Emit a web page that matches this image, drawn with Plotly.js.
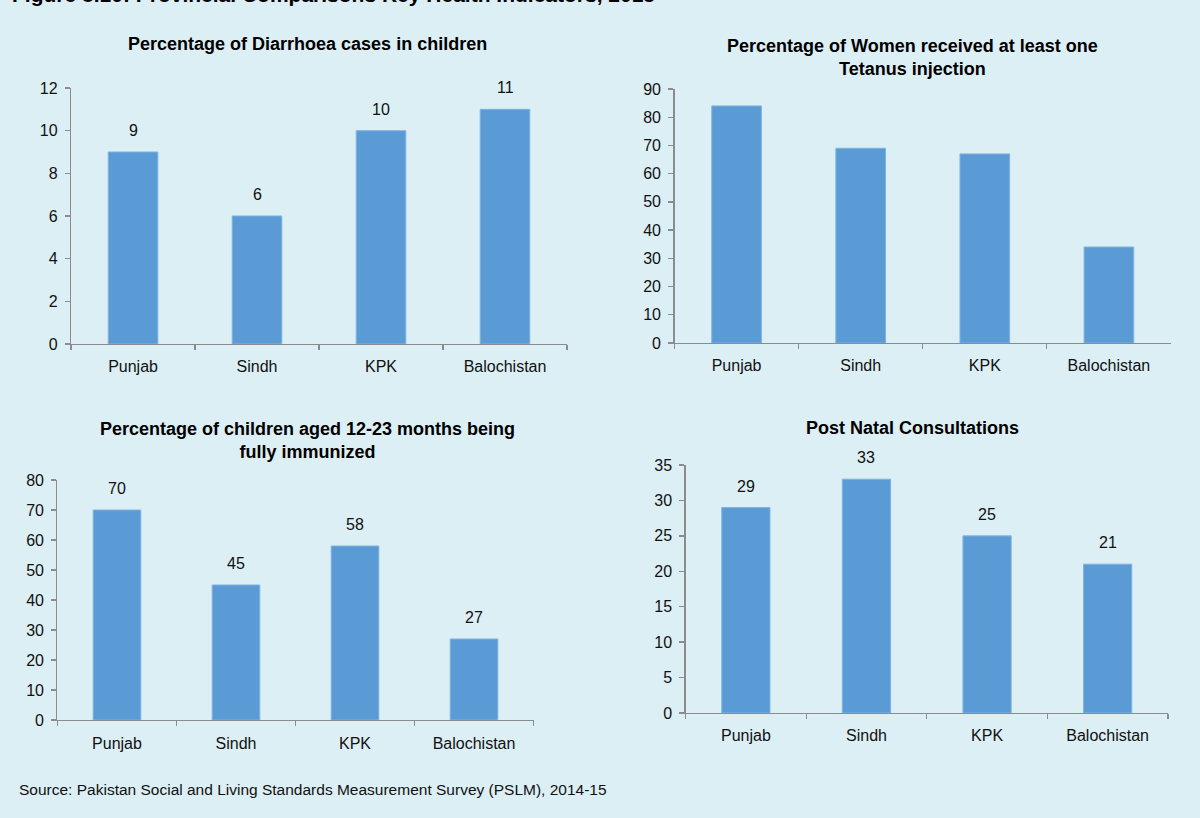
<!DOCTYPE html>
<html>
<head>
<meta charset="utf-8">
<script src="https://cdn.plot.ly/plotly-3.0.1.min.js"></script>
<style>
html,body{margin:0;padding:0;background:#DCEFF5;overflow:hidden;}
#chart{width:1200px;height:818px;}
</style>
</head>
<body>
<div id="chart"></div>
<script>
const provinces = ["Punjab", "Sindh", "KPK", "Balochistan"];
const diarrhoea = [9, 6, 10, 11];
const tetanus = [84, 69, 67, 34];
const immunized = [70, 45, 58, 27];
const postNatal = [29, 33, 25, 21];

const titles = [
  "Percentage of Diarrhoea cases in children",
  "Percentage of Women received at least one<br>Tetanus injection",
  "Percentage of children aged 12-23 months being<br>fully immunized",
  "Post Natal Consultations"
];
const figureTitle = "Figure 8.10: Provincial Comparisons Key Health Indicators, 2015";
const sourceText = "Source: Pakistan Social and Living Standards Measurement Survey (PSLM), 2014-15";

const FONT = "'Liberation Sans Narrow', 'Arial Narrow', 'Liberation Sans', Arial, sans-serif";
const BAR = "#5B9BD5";
const AXIS = "#8C8C8C";

const series = [diarrhoea, tetanus, immunized, postNatal];
const showLabels = [true, false, true, true];
const ranges = [[0, 12], [0, 90], [0, 80], [0, 35]];
const dticks = [2, 10, 10, 5];
const xDomains = [[0.0592, 0.4725], [0.5621, 0.9758], [0.0479, 0.4446], [0.5713, 0.9733]];
const yDomains = [[0.5795, 0.8924], [0.5807, 0.8912], [0.1198, 0.4132], [0.1284, 0.4315]];
const titlePos = [[307, 44], [912, 57], [307, 440], [912, 428]];

const data = [];
const layout = {
  width: 1200, height: 818,
  margin: {l: 0, r: 0, t: 0, b: 0},
  paper_bgcolor: "#DCEFF5",
  plot_bgcolor: "rgba(0,0,0,0)",
  showlegend: false,
  font: {family: FONT, size: 16, color: "#111"},
  annotations: [],
  bargap: 0.6
};

series.forEach((vals, i) => {
  const n = i + 1;
  const xa = n === 1 ? "x" : "x" + n;
  const ya = n === 1 ? "y" : "y" + n;
  data.push({
    type: "bar", x: provinces, y: vals, xaxis: xa, yaxis: ya,
    marker: {color: BAR, line: {color: "#7FB2E0", width: 1}},
    hoverinfo: "x+y"
  });
  const xk = n === 1 ? "xaxis" : "xaxis" + n;
  const yk = n === 1 ? "yaxis" : "yaxis" + n;
  layout[xk] = {
    domain: xDomains[i], anchor: ya,
    showline: true, linecolor: AXIS, linewidth: 1.3,
    ticks: "outside", ticklen: 5, tickcolor: AXIS, tickwidth: 1.3,
    tickson: "boundaries",
    showgrid: false, zeroline: false,
    tickfont: {family: FONT, size: 16, color: "#111"},
    ticklabelstandoff: 8,
    fixedrange: true
  };
  layout[yk] = {
    domain: yDomains[i], anchor: xa,
    range: ranges[i], dtick: dticks[i], tick0: 0,
    showline: true, linecolor: AXIS, linewidth: 1.3,
    ticks: "outside", ticklen: 5, tickcolor: AXIS, tickwidth: 1.3,
    showgrid: false, zeroline: false,
    tickfont: {family: FONT, size: 16, color: "#111"},
    ticklabelstandoff: 4,
    fixedrange: true
  };
  if (showLabels[i]) {
    vals.forEach((v, j) => {
      layout.annotations.push({
        xref: xa, yref: ya, x: provinces[j], y: v,
        text: String(v), showarrow: false,
        yanchor: "bottom", yshift: 11,
        font: {family: FONT, size: 16, color: "#111"}
      });
    });
  }
  layout.annotations.push({
    xref: "paper", yref: "paper",
    x: titlePos[i][0] / 1200, y: 1 - titlePos[i][1] / 818,
    xanchor: "center", yanchor: "middle",
    text: "<b>" + titles[i] + "</b>", showarrow: false,
    font: {family: FONT, size: 18, color: "#000"}
  });
});

layout.annotations.push({
  xref: "paper", yref: "paper", x: 10 / 1200, y: 1,
  xanchor: "left", yanchor: "bottom", yshift: -8,
  text: "<b>" + figureTitle + "</b>", showarrow: false,
  font: {family: FONT, size: 21, color: "#000"}
});
layout.annotations.push({
  xref: "paper", yref: "paper", x: 17 / 1200, y: 1 - 789 / 818,
  xanchor: "left", yanchor: "middle",
  text: sourceText, showarrow: false,
  font: {family: FONT, size: 15.5, color: "#111"}
});

Plotly.newPlot("chart", data, layout, {displayModeBar: false, staticPlot: true});
</script>
</body>
</html>
